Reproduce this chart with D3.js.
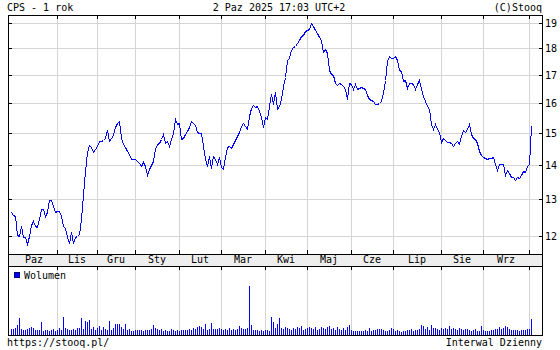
<html>
<head>
<meta charset="utf-8">
<script src="https://d3js.org/d3.v7.min.js"></script>
<style>
body { margin: 0; background: white; }
text { font-family: "DejaVu Sans Mono", monospace; font-size: 10px; fill: black; }
</style>
</head>
<body>
<svg width=560 height=350></svg>
<script>
// CPS - daily close, Oct 2024 .. Oct 2025
var prices = [
  12.64,12.55,12.52,12.02,12.0,12.27,11.96,11.98,11.78,12.0,
  12.29,12.4,12.27,12.22,12.45,12.73,12.71,12.54,12.63,12.98,
  12.96,12.8,12.63,12.66,12.65,12.54,12.27,12.2,11.96,11.82,
  12.09,11.82,11.96,12.0,12.04,12.45,13.1,13.8,14.37,14.6,
  14.53,14.4,14.47,14.58,14.74,14.72,14.77,14.84,15.1,14.74,
  14.84,14.93,
  15.17,15.33,15.39,14.84,14.63,14.53,14.42,14.32,14.16,14.16,
  14.16,14.1,14.05,13.97,14.08,13.95,13.7,13.86,14.0,14.1,
  14.47,14.65,14.68,14.79,14.95,14.68,14.72,14.58,14.79,15.0,
  15.44,15.28,15.31,14.79,14.84,14.95,15.06,15.17,15.37,15.31,
  15.24,15.02,15.0,15.0,14.58,14.16,13.95,14.26,13.9,14.26,
  14.16,
  14.02,14.23,13.92,13.87,14.23,14.54,14.56,14.52,14.64,14.76,
  14.9,15.03,15.22,15.3,15.22,15.11,15.56,15.83,15.92,15.85,
  15.88,15.72,15.5,15.17,15.5,15.44,15.88,16.32,15.94,16.39,
  15.78,15.88,16.12,16.59,16.91,17.53,17.63,17.94,18.04,18.07,
  18.2,18.33,18.47,18.53,18.67,18.73,18.77,19.02,18.87,18.73,
  18.6,
  18.46,18.31,17.87,17.96,17.81,17.19,17.04,17.0,16.71,16.61,
  16.71,16.65,16.59,16.47,16.14,16.71,16.65,16.5,16.67,16.47,
  16.53,16.56,16.53,16.47,16.26,16.14,16.09,16.06,15.94,15.97,
  15.98,16.06,16.35,16.81,17.5,17.69,17.62,17.62,17.71,17.56,
  17.19,17.12,16.76,16.81,16.53,16.68,16.71,16.67,16.47,16.65,
  16.79,
  16.5,16.25,16.05,15.9,15.77,
  15.28,15.13,15.28,15.11,15.02,14.71,14.84,14.77,14.69,14.71,
  14.67,14.56,14.67,14.72,14.64,14.88,15.09,15.02,15.13,15.28,
  14.95,14.84,14.79,14.67,14.43,14.29,14.22,14.19,14.17,14.2,
  14.19,14.22,14.01,13.83,14.01,14.01,14.01,13.69,13.83,13.74,
  13.64,13.62,13.55,13.64,13.6,13.69,13.8,13.78,13.96,14.01,
  15.22
]

// volume, thousands of shares
var volumes = [
  5,5,6,9,16,5,4,4,5,6,
  7,6,4,4,4,12,3,4,4,3,
  4,5,3,4,6,4,17,6,5,4,
  4,5,4,6,6,16,5,13,12,14,
  5,7,4,6,8,4,7,5,4,13,
  4,6,10,10,10,7,5,10,4,5,
  3,3,4,4,4,4,3,4,4,4,
  5,9,6,5,4,5,3,4,3,3,
  5,4,3,4,3,4,4,4,4,5,
  4,6,5,7,8,7,5,10,4,5,
  11,5,5,5,6,5,4,5,4,6,
  4,5,4,5,8,6,5,5,6,49,
  9,4,4,4,3,4,3,4,4,3,
  17,12,6,10,16,6,5,7,6,5,
  4,6,5,7,6,8,4,5,6,7,
  6,5,7,4,5,7,6,5,7,8,
  5,6,4,7,5,4,6,4,7,9,
  4,3,3,3,3,3,3,4,3,6,
  3,4,4,5,5,5,4,3,3,4,
  6,5,3,4,3,2,3,3,4,4,
  5,3,4,4,5,9,8,5,7,4,
  9,6,6,5,4,6,5,6,5,8,
  5,6,5,4,6,5,4,5,5,4,
  3,4,5,3,3,8,4,3,3,3,
  4,4,5,5,7,5,6,8,7,5,
  4,4,4,4,3,4,4,4,5,5,
  15
]

var months = ["Paz","Lis","Gru","Sty","Lut","Mar","Kwi","Maj","Cze","Lip","Sie","Wrz"]
// index of first session of the next month (month boundaries)
var monthEnds = [23, 43, 62, 84, 105, 127, 148, 170, 191, 215, 236, 259]
var yTicks = [12, 13, 14, 15, 16, 17, 18, 19]

var plotL = 8, plotR = 542
var plotT = 15, plotB = 254
var bandB = 266, volB = 335

var svg = d3.select("svg")

var x = d3.scaleLinear().domain([0, prices.length - 1]).range([11, 531])
var y = d3.scaleLog().domain([11.54, 19.34]).range([plotB, plotT])
var yv = d3.scaleLinear().domain([0, 70]).range([volB - 1, bandB - 1])

function px(v) { return Math.round(v) + 0.5 }

// label band
svg.append("rect").attr("x", plotL).attr("y", plotB).attr("width", plotR - plotL).attr("height", bandB - plotB)
  .style("fill", "#eeeeee")

// grid
var grid = svg.append("g").style("stroke", "#d4d4d4").style("shape-rendering", "crispEdges")
grid.selectAll(".hg").data(yTicks).enter().append("line")
  .attr("x1", plotL).attr("x2", plotR)
  .attr("y1", function(d) { return px(y(d)) }).attr("y2", function(d) { return px(y(d)) })
grid.selectAll(".vg").data(monthEnds).enter().append("line")
  .attr("x1", function(d) { return px(x(d)) }).attr("x2", function(d) { return px(x(d)) })
  .attr("y1", plotT).attr("y2", plotB)
grid.selectAll(".vv").data(monthEnds).enter().append("line")
  .attr("x1", function(d) { return px(x(d)) }).attr("x2", function(d) { return px(x(d)) })
  .attr("y1", bandB).attr("y2", volB)

// price line (pixel look, no smoothing)
var line = d3.line().x(function(d, i) { return Math.round(x(i)) + 0.5 }).y(function(d) { return Math.round(y(d)) + 0.5 })
svg.append("path").datum(prices).attr("d", line)
  .style("fill", "none").style("stroke", "#0000ff").style("stroke-width", 1)
  .style("shape-rendering", "crispEdges")

// volume bars
svg.append("g").selectAll("rect").data(volumes).enter().append("rect")
  .attr("x", function(d, i) { return Math.round(x(i)) })
  .attr("y", function(d) { return Math.round(yv(d)) })
  .attr("width", 1)
  .attr("height", function(d) { return volB - Math.round(yv(d)) })
  .style("fill", "#0000ff").style("shape-rendering", "crispEdges")

// frames and ticks
var frame = svg.append("g").style("stroke", "black").style("fill", "none").style("shape-rendering", "crispEdges")
frame.append("rect").attr("x", plotL + 0.5).attr("y", plotT + 0.5).attr("width", plotR - plotL).attr("height", volB - plotT)
frame.append("line").attr("x1", plotL).attr("x2", plotR).attr("y1", plotB + 0.5).attr("y2", plotB + 0.5)
frame.append("line").attr("x1", plotL).attr("x2", plotR).attr("y1", bandB + 0.5).attr("y2", bandB + 0.5)

yTicks.forEach(function(t) {
  var yy = px(y(t))
  frame.append("line").attr("x1", plotL).attr("x2", plotL + 4).attr("y1", yy).attr("y2", yy)
  frame.append("line").attr("x1", plotR - 3).attr("x2", plotR + 1).attr("y1", yy).attr("y2", yy)
  svg.append("text").attr("x", plotR + 3).attr("y", yy).attr("dy", "0.36em").text(t)
})

monthEnds.forEach(function(m) {
  var xx = px(x(m))
  frame.append("line").attr("x1", xx).attr("x2", xx).attr("y1", plotT).attr("y2", plotT + 4)
  frame.append("line").attr("x1", xx).attr("x2", xx).attr("y1", plotB - 4).attr("y2", plotB)
  frame.append("line").attr("x1", xx).attr("x2", xx).attr("y1", bandB).attr("y2", bandB + 4)
})

// month labels, centred in each month
months.forEach(function(m, i) {
  var a = i == 0 ? x(0) : x(monthEnds[i - 1])
  var b = x(monthEnds[i])
  svg.append("text").attr("x", (a + b) / 2).attr("y", 263).attr("text-anchor", "middle").text(m)
})

// legend
svg.append("rect").attr("x", 14.5).attr("y", 272.5).attr("width", 5).attr("height", 5)
  .style("fill", "#0000ff").style("stroke", "#000080").style("shape-rendering", "crispEdges")
svg.append("text").attr("x", 24).attr("y", 279).text("Wolumen")

// header / footer
svg.append("text").attr("x", 7).attr("y", 11).text("CPS - 1 rok")
svg.append("text").attr("x", 279).attr("y", 11).attr("text-anchor", "middle").text("2 Paz 2025 17:03 UTC+2")
svg.append("text").attr("x", 542).attr("y", 11).attr("text-anchor", "end").text("(C)Stooq")
svg.append("text").attr("x", 7).attr("y", 346).text("https://stooq.pl/")
svg.append("text").attr("x", 542).attr("y", 346).attr("text-anchor", "end").text("Interwal Dzienny")
</script>
</body>
</html>
